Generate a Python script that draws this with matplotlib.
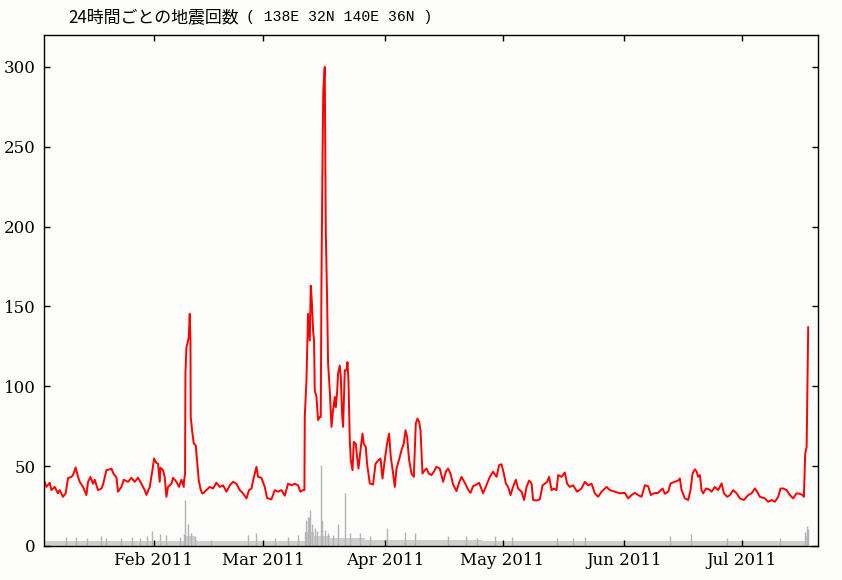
import matplotlib
matplotlib.use('Agg')
import matplotlib.pyplot as plt
import matplotlib.dates as mdates
import numpy as np
import pandas as pd

# ---- data (day offsets since 2011-01-01 00:00) ----
red_days = [3.0, 3.18, 3.61, 4.46, 4.89, 5.73, 6.57, 7.01, 7.85, 8.54, 9.13, 10.0, 10.4, 11.09, 11.68,
            12.11, 12.96, 13.82, 14.23, 14.84, 15.51, 15.94, 16.78, 17.65, 18.06, 18.93, 19.77, 20.2,
            20.79, 21.48, 21.89, 22.76, 23.34, 24.44, 25.31, 26.15, 26.99, 27.86, 28.7, 29.14, 29.98,
            30.67, 31.08, 31.69, 32.1, 32.53, 32.71, 33.37, 33.81, 34.24, 34.65, 35.52, 35.93, 36.79,
            37.46, 38.07, 38.66, 38.74, 38.99, 39.09, 39.35, 39.6, 39.93, 40.19, 40.37, 40.44, 40.78,
            41.21, 41.72, 42.05, 42.49, 42.92, 43.33,
            43.58, 44.45, 45.29, 46.14, 47.0, 47.85, 48.69, 49.56, 50.4, 51.24, 52.11, 52.95, 53.79,
            54.66, 55.32, 55.94, 56.52, 57.21, 57.62, 58.49, 59.33, 59.92, 61.04, 61.88, 62.73, 63.59,
            64.44, 65.28, 66.15, 66.99, 67.83, 68.44, 69.11, 69.45,
            69.54, 69.97, 70.38, 70.82, 71.07, 71.33, 71.66, 71.91, 72.09, 72.53, 72.93, 73.37, 73.62,
            73.8, 74.06, 74.26, 74.64, 74.9, 75.23, 75.49, 75.92, 76.36, 76.76, 77.2, 77.45, 77.78,
            78.04, 78.47, 78.73, 79.06, 79.32, 79.75, 80.18, 80.44, 80.69, 81.03, 81.28, 81.72, 82.05,
            82.56, 82.89, 83.25, 83.76, 84.27, 84.6, 85.11, 85.44, 86.13, 86.97, 87.59, 88.25, 88.86,
            89.37, 89.96, 90.55, 91.06, 91.49, 92.08, 92.51, 92.95, 93.79, 94.22, 94.81, 95.24, 95.65,
            96.16, 96.77, 97.36, 97.87, 98.3, 98.71, 99.07, 99.58, 100.17, 100.6, 101.19, 101.88,
            102.47, 103.15, 103.99, 104.84, 105.53, 106.11, 106.73, 107.39, 108.26, 108.92, 109.53,
            110.38, 111.22, 111.83, 112.5, 113.36, 114.03, 115.05, 116.76, 117.6, 118.47, 119.13,
            119.74, 120.33, 120.84, 121.43, 122.04, 122.7, 123.39, 123.98, 124.85, 125.51, 126.13,
            126.79, 127.4, 127.81, 128.68, 129.52, 130.21, 130.8, 131.38, 131.89, 132.51, 133.09,
            133.78, 134.19, 135.06, 135.9, 136.49, 137.18, 138.02, 139.04, 140.16, 141.01, 141.85,
            142.72, 143.56, 144.4, 145.27, 146.55, 147.39, 148.67, 149.94, 151.22, 152.06, 152.93,
            153.77, 154.61, 155.48, 156.32, 157.16, 157.85, 158.62, 159.71, 160.84, 161.42, 162.27,
            162.88, 163.98, 164.82, 165.25, 165.69, 166.53, 167.37, 167.98, 168.49, 169.08, 169.51,
            169.92, 170.36, 170.79, 171.2, 171.89, 172.73, 173.35, 174.19, 175.03, 175.9, 176.48,
            177.33, 178.01, 178.86, 179.73, 180.57, 181.59, 182.69, 183.55, 184.4, 184.98, 185.67,
            186.94, 187.79, 188.66, 189.5, 190.34, 190.95, 191.62, 192.49, 193.33, 194.17, 195.04,
            195.88, 196.57, 196.9, 197.24, 197.6, 198.0]
red_vals = [40, 40.2, 37, 39.6, 35, 37, 33, 35, 30.8, 33, 42.5, 43.3, 44.4, 49.2, 43.3,
            40.2, 37, 31.9, 40, 43.3, 39, 41.5, 35, 36, 38.5, 47.5, 48, 48.5,
            45, 43, 34, 37, 41.5, 40.2, 42.7, 40.2, 42.7, 39, 35, 32, 37,
            47.5, 54.8, 52, 51.5, 40.2, 49, 47.5, 43, 30.8, 37, 39, 42.7, 40.2,
            37, 41.5, 37, 41, 45, 108, 124.6, 126.7, 130.8, 145.4, 128.7, 80.8, 72.5,
            64.2, 63, 53.7, 41, 36, 33,
            33, 35, 37, 36, 39.6, 37, 38, 34, 38, 40.2, 39, 35, 33,
            29.8, 35, 36, 42.7, 49.6, 43.3, 42.7, 37, 30, 29.2, 35, 34, 35,
            31.5, 39, 38, 39, 38, 34, 35, 35,
            80.8, 103.8, 145.4, 128.7, 163, 153.8, 135, 128.7, 97.5, 93.3, 78.8, 80.8, 80.8,
            166, 240, 285, 300, 197.5, 155.8, 114, 97.5, 74.6, 85, 93.3, 87, 95.6,
            108, 113, 106, 83, 74.6, 110, 110, 115.2, 103.8, 66.2, 53.8, 47.5, 65.2,
            64, 55.8, 48.5, 60, 70.4, 64, 62, 51.5, 39.2, 38.5, 51.5, 53.5, 54.8,
            42.3, 54, 64.2, 70.4, 55.8, 45.4, 37, 48.5, 55.8, 60, 64.2, 72.5, 68.3,
            54, 45.4, 43.3, 76.7, 79.8, 77.7, 72.5, 45.4, 47.5, 48.5, 45.4, 44.4,
            46.5, 49.6, 48.5, 40.2, 46.5, 48.5, 45.4, 38.5, 34.4, 39.6, 43.3,
            39.6, 35.4, 33.3, 37.5, 38.5, 39.6, 33, 43.3, 46.5, 43.3, 50.6,
            51.2, 45.4, 39.2, 37, 31.9, 37, 41.5, 36, 34, 28.8, 37,
            41, 39.2, 28.8, 28.5, 29.2, 38, 39, 40.2, 43.3, 35, 36,
            35, 44.4, 43.3, 46, 39, 37, 38, 34, 36, 40.2, 38,
            39, 33, 30.8, 34, 37, 35, 34, 33, 33.3, 29.8, 31.9,
            33.3, 31.9, 30.8, 38, 37.5, 31.9, 33, 33.3, 36, 32.7, 34,
            39.2, 40.2, 41, 42.3, 35, 29.8, 28.8, 35, 45.4, 48, 46.7,
            43.3, 44.4, 35, 33, 36, 35.4, 34, 37, 35, 39.2, 33,
            30.8, 31.9, 35, 33, 29.8, 28.8, 31.9, 33, 36, 34, 30.8,
            29.8, 27.7, 28.8, 27.7, 30.8, 36, 36, 35, 31.9, 29.8, 33,
            32.7, 31.9, 30.8, 58, 62, 137]

# hourly-count background level (gray)
gray_base_days = [3.0, 38.9, 39.0, 41.5, 42.0, 69.5, 69.6, 72.0, 76.0, 85.0, 100.0, 115.0, 196.9, 197.2, 198.0]
gray_base_vals = [3.0, 3.0, 6.0, 4.0, 3.0, 3.0, 9.0, 6.5, 5.0, 4.0, 3.5, 3.0, 3.0, 6.0, 6.0]
# notable hourly spikes (gray)
gray_spike_days = [8.72, 11.09, 14.08, 17.65, 18.93, 22.76, 25.56, 27.43, 29.39, 30.49, 32.71, 34.24,
                   37.64, 38.66, 39.09, 39.75, 40.62, 41.46, 45.73, 55.07, 57.03, 61.88, 65.28, 67.83,
                   69.54, 69.97, 70.38, 70.64, 71.0, 71.5, 72.09, 72.68, 73.8, 74.06, 74.64, 75.49,
                   76.76, 78.04, 79.75, 81.03, 83.58, 86.13, 90.4, 95.06, 97.62, 106.1, 110.8, 113.4,
                   118.0, 122.3, 133.8, 138.0, 141.0, 162.7, 168.2, 177.2, 190.8, 197.2, 197.6, 198.0]
gray_spike_vals = [5.8, 5.8, 5, 6, 5, 5, 5.8, 5, 6.5, 9.4, 7.3, 7,
                   5.5, 7.7, 29, 14, 8, 6, 4, 7, 8, 5, 5.5, 7,
                   9, 16, 18, 18, 22.5, 14, 11, 9.6, 50.6, 16, 10, 8,
                   7, 14, 33, 8, 8, 6.5, 11, 9, 8, 6, 6, 5,
                   6.2, 5.4, 5, 4.8, 5.4, 6.2, 7.7, 4.8, 5, 8.7, 12.7, 10.5]

y_ticks = [0, 50, 100, 150, 200, 250, 300]
title_jp = '24時間ごとの地震回数'
title_area = '( 138E 32N 140E 36N )'

start = pd.Timestamp('2011-01-01')


def to_dt(days):
    return start + pd.to_timedelta(np.asarray(days, dtype=float), unit='D')


bg = '#fcfcfa'
fig = plt.figure(figsize=(8.42, 5.8), dpi=100, facecolor=bg)
ax = fig.add_axes([44 / 842, 34 / 580, 774 / 842, 511 / 580], facecolor=bg)

ax.fill_between(to_dt(gray_base_days), 0, gray_base_vals, step='post', color='#cfcfcf', lw=0)
ax.vlines(to_dt(gray_spike_days), 0, gray_spike_vals, color='#b4b4b4', lw=1.0)
ax.plot(to_dt(red_days), red_vals, color='red', lw=1.4)

ax.set_xlim(to_dt([3.0, 200.5]))
ax.set_ylim(0, 320)
ax.set_yticks(y_ticks)
ax.xaxis.set_major_locator(mdates.MonthLocator(bymonth=[2, 3, 4, 5, 6, 7]))
ax.xaxis.set_major_formatter(mdates.DateFormatter('%b %Y'))

ax.tick_params(direction='in', length=4, width=1, top=True, right=True,
               labelsize=12, colors='black', pad=6)
ax.tick_params(axis='x', pad=4)
for lab in ax.get_xticklabels() + ax.get_yticklabels():
    lab.set_family('DejaVu Serif')
for s in ax.spines.values():
    s.set_linewidth(1.0)
    s.set_color('black')

fig.text(68 / 842, 1 - 17 / 580, title_jp, family=['Noto Sans CJK JP', 'DejaVu Sans'],
         fontsize=12.2, va='center', ha='left', color='black')
fig.text(246 / 842, 1 - 17 / 580, title_area, family=['Liberation Mono', 'DejaVu Sans Mono'],
         fontsize=10.6, va='center', ha='left', color='black')

fig.savefig('out.png', dpi=100, facecolor=bg)
